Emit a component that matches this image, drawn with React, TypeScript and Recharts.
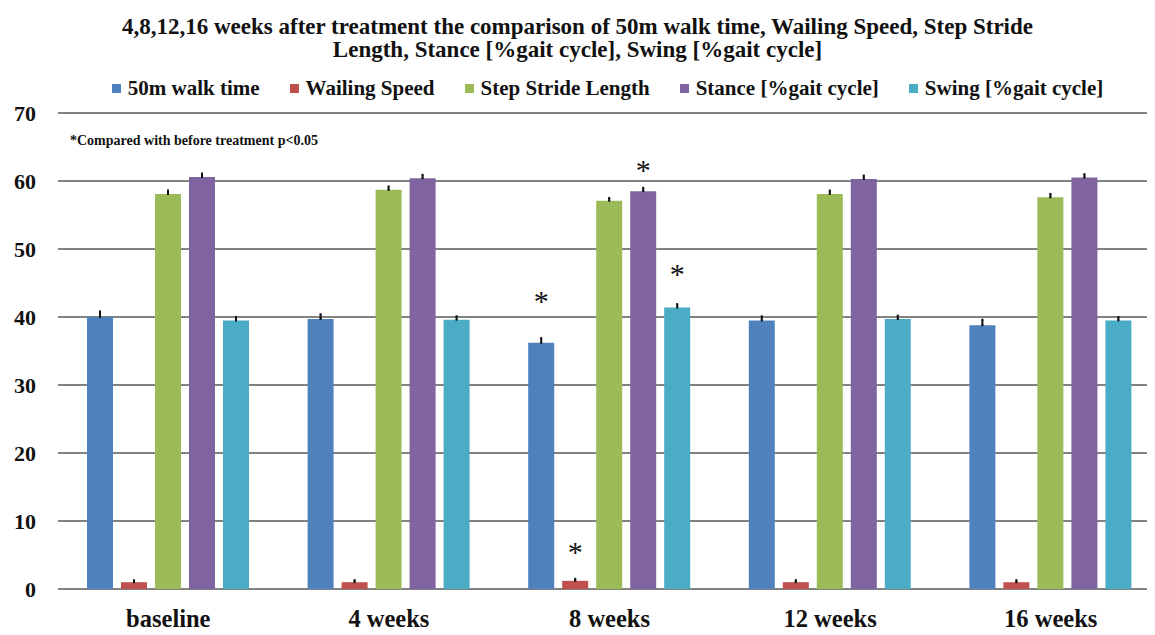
import React from 'react';
import { BarChart, Bar, XAxis, YAxis, CartesianGrid, ErrorBar, LabelList } from 'recharts';

const categories = ['baseline', '4 weeks', '8 weeks', '12 weeks', '16 weeks'];
const walkTime = [40.0, 39.7, 36.2, 39.5, 38.8];
const walkingSpeed = [1.0, 1.0, 1.2, 1.0, 1.0];
const strideLength = [58.1, 58.7, 57.1, 58.1, 57.6];
const stance = [60.6, 60.4, 58.5, 60.3, 60.5];
const swing = [39.5, 39.6, 41.4, 39.7, 39.5];

const walkTimeErr = [0.8, 0.7, 0.7, 0.6, 0.8];
const walkingSpeedErr = [0.3, 0.3, 0.3, 0.3, 0.3];
const strideErr = [0.5, 0.5, 0.4, 0.5, 0.5];
const stanceErr = [0.5, 0.5, 0.5, 0.5, 0.5];
const swingErr = [0.5, 0.5, 0.5, 0.5, 0.5];

const walkTimeStar = [false, false, true, false, false];
const walkingSpeedStar = [false, false, true, false, false];
const stanceStar = [false, false, true, false, false];
const swingStar = [false, false, true, false, false];

const seriesNames = ['50m walk time', 'Wailing Speed', 'Step Stride Length', 'Stance [%gait cycle]', 'Swing [%gait cycle]'];
const seriesColors = ['#4F81BD', '#C0504D', '#9BBB59', '#8064A2', '#4BACC6'];
const yTicks = [0, 10, 20, 30, 40, 50, 60, 70];

const data = categories.map((c, i) => ({
  name: c,
  walk: walkTime[i],
  walkErr: [0, walkTimeErr[i]],
  walkStar: walkTimeStar[i],
  speed: walkingSpeed[i],
  speedErr: [0, walkingSpeedErr[i]],
  speedStar: walkingSpeedStar[i],
  stride: strideLength[i],
  strideErr: [0, strideErr[i]],
  stance: stance[i],
  stanceErr: [0, stanceErr[i]],
  stanceStar: stanceStar[i],
  swing: swing[i],
  swingErr: [0, swingErr[i]],
  swingStar: swingStar[i],
}));

const FONT = '"Liberation Serif", "Times New Roman", serif';

const starRenderer = (lift: number) => (props: any) => {
  const { x, y, width, value } = props;
  if (!value) return null;
  return (
    <text x={Number(x) + Number(width) / 2} y={Number(y) - lift} textAnchor="middle" fontFamily={FONT} fontSize={30} fill="#111">
      *
    </text>
  );
};

const LegendContent = () => (
  <div style={{ display: 'flex', justifyContent: 'center', gap: 30, fontFamily: FONT, fontWeight: 'bold', fontSize: 21, lineHeight: '22px', color: '#111' }}>
    {seriesNames.map((n, i) => (
      <div key={n} style={{ display: 'flex', alignItems: 'center' }}>
        <span style={{ display: 'inline-block', width: 9, height: 9, background: seriesColors[i], marginRight: 7 }} />
        <span>{n}</span>
      </div>
    ))}
  </div>
);

export default function App() {
  const yTickStyle = { fontFamily: FONT, fontWeight: 'bold' as const, fontSize: 22, fill: '#111' };
  const xTickStyle = { fontFamily: FONT, fontWeight: 'bold' as const, fontSize: 24.5, fill: '#111' };
  return (
    <div style={{ position: 'relative', width: 1155, height: 635, margin: -8, overflow: 'hidden', background: '#fff' }}>
      <div style={{ position: 'absolute', top: 15, left: 0, width: 1155, textAlign: 'center', fontFamily: FONT, fontWeight: 'bold', fontSize: 23, lineHeight: '23px', color: '#111' }}>
        4,8,12,16 weeks after treatment the comparison of 50m walk time, Wailing Speed, Step Stride
        <br />
        Length, Stance [%gait cycle], Swing [%gait cycle]
      </div>
      <div style={{ position: 'absolute', top: 77, left: 30, width: 1155 }}>
        <LegendContent />
      </div>
      <div style={{ position: 'absolute', top: 133, left: 70, fontFamily: FONT, fontWeight: 'bold', fontSize: 14, color: '#111', zIndex: 2 }}>
        *Compared with before treatment p&lt;0.05
      </div>
      <div style={{ position: 'absolute', top: 0, left: 0 }}>
        <BarChart width={1172} height={635} data={data} margin={{ top: 113, right: 11, left: 0, bottom: 0 }} barSize={26} barGap={8}>
          <CartesianGrid vertical={false} stroke="#595959" strokeWidth={1.6} />
          <XAxis dataKey="name" axisLine={false} tickLine={false} tickMargin={15} height={46} tick={xTickStyle} interval={0} />
          <YAxis domain={[0, 70]} ticks={yTicks} axisLine={false} tickLine={false} tickMargin={16} width={58} tick={yTickStyle} />
          <Bar dataKey="walk" name={seriesNames[0]} fill={seriesColors[0]} isAnimationActive={false}>
            <ErrorBar dataKey="walkErr" width={1} strokeWidth={2} stroke="#111" />
            <LabelList dataKey="walkStar" content={starRenderer(32)} />
          </Bar>
          <Bar dataKey="speed" name={seriesNames[1]} fill={seriesColors[1]} isAnimationActive={false}>
            <ErrorBar dataKey="speedErr" width={1} strokeWidth={2} stroke="#111" />
            <LabelList dataKey="speedStar" content={starRenderer(19)} />
          </Bar>
          <Bar dataKey="stride" name={seriesNames[2]} fill={seriesColors[2]} isAnimationActive={false}>
            <ErrorBar dataKey="strideErr" width={1} strokeWidth={2} stroke="#111" />
          </Bar>
          <Bar dataKey="stance" name={seriesNames[3]} fill={seriesColors[3]} isAnimationActive={false}>
            <ErrorBar dataKey="stanceErr" width={1} strokeWidth={2} stroke="#111" />
            <LabelList dataKey="stanceStar" content={starRenderer(11)} />
          </Bar>
          <Bar dataKey="swing" name={seriesNames[4]} fill={seriesColors[4]} isAnimationActive={false}>
            <ErrorBar dataKey="swingErr" width={1} strokeWidth={2} stroke="#111" />
            <LabelList dataKey="swingStar" content={starRenderer(23)} />
          </Bar>
        </BarChart>
      </div>
    </div>
  );
}
